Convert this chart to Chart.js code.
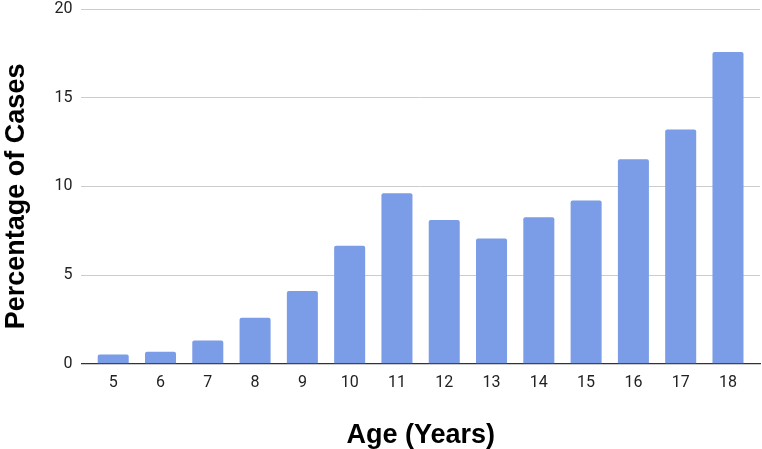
<!DOCTYPE html>
<html><head><meta charset="utf-8">
<script src="https://cdn.jsdelivr.net/npm/chart.js@4/dist/chart.umd.min.js"></script>
<style>html,body{margin:0;padding:0;background:#fff}#wrap{width:762px;height:449px}</style>
</head><body><div id="wrap"><canvas id="c" width="762" height="449"></canvas></div>
<script>
const ages = [5, 6, 7, 8, 9, 10, 11, 12, 13, 14, 15, 16, 17, 18];
const percentages = [0.53, 0.68, 1.32, 2.6, 4.11, 6.66, 9.62, 8.11, 7.06, 8.26, 9.21, 11.53, 13.21, 17.57];
const yTicks = [0, 5, 10, 15, 20];
const xTitle = 'Age (Years)';
const yTitle = 'Percentage of Cases';

const titleFont = {family: 'Liberation Sans', size: 27, weight: 'bold'};

// draws the y-axis title slightly below the chart-area centre, as in the reference
const yTitlePlugin = {
  id: 'yTitle',
  afterDraw(chart) {
    const ctx = chart.ctx, a = chart.chartArea;
    ctx.save();
    ctx.translate(16.2, (a.top + a.bottom) / 2 + 10);
    ctx.rotate(-Math.PI / 2);
    ctx.font = 'bold 27px "Liberation Sans"';
    ctx.fillStyle = '#000';
    ctx.textAlign = 'center';
    ctx.textBaseline = 'middle';
    ctx.fillText(yTitle, 0, 0);
    ctx.restore();
  }
};

new Chart(document.getElementById('c'), {
  type: 'bar',
  data: {
    datasets: [{
      data: ages.map((a, i) => ({x: a, y: percentages[i]})),
      backgroundColor: '#7b9ce6',
      borderRadius: {topLeft: 2, topRight: 2},
      borderSkipped: 'bottom',
      barPercentage: 0.656,
      categoryPercentage: 1
    }]
  },
  plugins: [yTitlePlugin],
  options: {
    responsive: false,
    animation: false,
    layout: {padding: {top: 9, right: 2, left: 0, bottom: 0}},
    plugins: {legend: {display: false}, tooltip: {enabled: false}},
    scales: {
      x: {
        type: 'linear',
        offset: false,
        min: 4.327, max: 18.677,
        afterBuildTicks: s => { s.ticks = ages.map(v => ({value: v})); },
        afterFit: s => { s.paddingLeft = 0; s.paddingRight = 0; },
        grid: {display: false, drawTicks: false, offset: false},
        border: {display: true, color: '#333', width: 1.3},
        ticks: {font: {family: 'Roboto', size: 16}, color: '#222', padding: 10, autoSkip: false, maxRotation: 0},
        title: {display: true, text: xTitle, font: Object.assign({lineHeight: 1}, titleFont), color: '#000', padding: {top: 19, bottom: 0}}
      },
      y: {
        min: 0, max: 20,
        afterBuildTicks: s => { s.ticks = yTicks.map(v => ({value: v})); },
        afterFit: s => { s.paddingTop = 0; s.paddingBottom = 0; },
        grid: {color: '#cccccc', lineWidth: 1, drawTicks: false},
        border: {display: false},
        ticks: {font: {family: 'Roboto', size: 16}, color: '#222', padding: 9},
        title: {display: true, text: yTitle, font: titleFont, color: 'rgba(0,0,0,0)', padding: {top: 0, bottom: 13}}
      }
    }
  }
});
</script></body></html>
